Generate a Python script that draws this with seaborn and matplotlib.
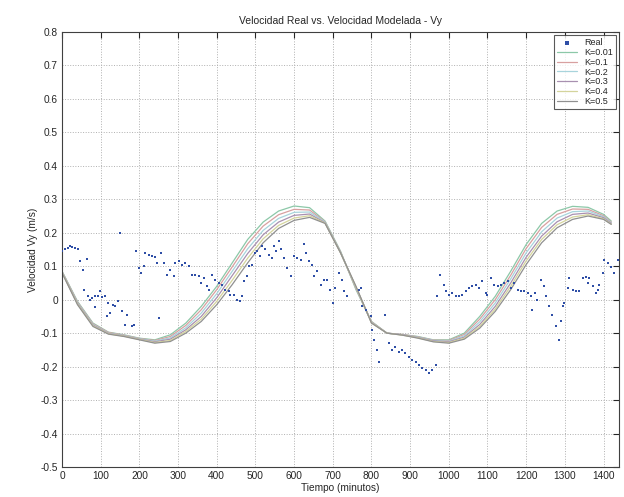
import numpy as np
import pandas as pd
import matplotlib
matplotlib.use("Agg")
import matplotlib.pyplot as plt
import seaborn as sns

# datos reales (tiempo en minutos, velocidad Vy en m/s)
t_real = [1, 8, 15, 21, 27, 34, 41, 47, 53, 64, 58, 68, 73, 77, 84, 84, 94, 99, 103, 110,
          116, 120, 124, 131, 137, 144, 150, 155, 168, 163, 181, 187, 192, 198, 205, 211,
          215, 224, 232, 241, 250, 257, 245, 263, 271, 280, 289, 293, 302, 310, 319, 327,
          336, 345, 353, 360, 366, 375, 379, 388, 395, 405, 414, 422, 431, 435, 444, 453,
          461, 466, 470, 479, 483, 492, 500, 504, 513, 517, 526, 535, 542, 548, 552, 561,
          565, 574, 582, 591, 600, 608, 617, 625, 630, 638, 647, 651, 660, 669, 677, 686,
          694, 700, 707, 716, 723, 729, 738,
          767, 772, 776, 785, 798, 802, 806, 815, 819, 836, 845, 854, 862, 871, 880, 888,
          897, 906, 914, 923, 931, 940, 949, 957, 966, 970,
          977, 988, 992, 1001, 1009, 1018, 1026, 1035, 1044, 1052, 1061, 1070, 1078, 1087,
          1096, 1100, 1108, 1117, 1126, 1134, 1143, 1152, 1160, 1169, 1178, 1186, 1195,
          1204, 1212, 1216, 1222, 1229, 1238, 1247, 1251, 1260, 1268, 1277, 1286, 1290,
          1294, 1299, 1307, 1312, 1320, 1329, 1337, 1346, 1355, 1359, 1363, 1372, 1381,
          1385, 1389, 1398, 1402, 1411, 1419, 1428, 1437]
v_real = [0.145, 0.15, 0.155, 0.16, 0.158, 0.155, 0.15, 0.115, 0.09, 0.122, 0.03, 0.01, 0.0,
          0.005, -0.023, 0.01, 0.01, 0.025, 0.008, 0.01, -0.05, -0.01, -0.04, -0.015, -0.02,
          -0.005, 0.2, -0.035, -0.045, -0.075, -0.08, -0.075, 0.145, 0.095, 0.08, 0.1,
          0.14, 0.135, 0.13, 0.128, -0.055, 0.14, 0.11, 0.11, 0.075, 0.09, 0.07, 0.11,
          0.115, 0.105, 0.11, 0.1, 0.075, 0.075, 0.07, 0.05, 0.065, 0.04, 0.03, 0.075,
          0.06, 0.05, 0.045, 0.03, 0.025, 0.015, 0.015, 0.0, -0.005, 0.01, 0.055, 0.07,
          0.1, 0.105, 0.14, 0.145, 0.13, 0.16, 0.15, 0.135, 0.125, 0.16, 0.145, 0.175,
          0.15, 0.125, 0.095, 0.07, 0.13, 0.125, 0.12, 0.165, 0.14, 0.115, 0.105, 0.07,
          0.085, 0.045, 0.06, 0.06, 0.03, -0.01, 0.035, 0.08, 0.06, 0.025, 0.01,
          0.03, 0.035, -0.02, -0.03, -0.05, -0.09, -0.12, -0.15, -0.185, -0.045, -0.13,
          -0.15, -0.14, -0.155, -0.15, -0.16, -0.17, -0.18, -0.185, -0.195, -0.205, -0.21,
          -0.22, -0.21, -0.195, 0.01,
          0.074, 0.044, 0.025, 0.015, 0.02, 0.01, 0.01, 0.015, 0.025, 0.035, 0.04, 0.045,
          0.035, 0.055, 0.02, 0.015, 0.064, 0.045, 0.04, 0.045, 0.05, 0.055, 0.035, 0.05,
          0.03, 0.025, 0.025, 0.02, 0.01, -0.03, 0.02, 0.0, 0.06, 0.04, 0.01, -0.02,
          -0.045, -0.08, -0.12, -0.065, -0.02, -0.01, 0.035, 0.064, 0.03, 0.025, 0.025,
          0.064, 0.069, 0.05, 0.064, 0.04, 0.02, 0.03, 0.045, 0.079, 0.119, 0.109, 0.099,
          0.079, 0.119]

# velocidad modelada para cada K
t_mod = [0, 40, 80, 120, 160, 200, 240, 280, 320, 360, 400, 440, 480, 520, 560, 600, 640,
         680, 720, 760, 800, 840, 880, 920, 960, 1000, 1040, 1080, 1120, 1160, 1200, 1240,
         1280, 1320, 1360, 1400, 1420]
k001 = [0.085, -0.005, -0.07, -0.097, -0.105, -0.115, -0.12, -0.105, -0.07, -0.02, 0.04,
        0.11, 0.18, 0.232, 0.265, 0.28, 0.275, 0.235, 0.145, 0.03, -0.065, -0.1, -0.104,
        -0.11, -0.12, -0.12, -0.1, -0.05, 0.01, 0.085, 0.165, 0.228, 0.265, 0.279, 0.276,
        0.255, 0.235]
k01 = [0.084, -0.007, -0.072, -0.098, -0.106, -0.116, -0.122, -0.11, -0.077, -0.03, 0.03,
       0.098, 0.167, 0.22, 0.254, 0.27, 0.268, 0.233, 0.143, 0.033, -0.066, -0.1, -0.104,
       -0.111, -0.121, -0.122, -0.104, -0.058, 0.0, 0.073, 0.153, 0.216, 0.255, 0.271, 0.27,
       0.251, 0.232]
k02 = [0.083, -0.009, -0.074, -0.1, -0.107, -0.117, -0.124, -0.114, -0.084, -0.04, 0.018,
       0.085, 0.152, 0.207, 0.243, 0.261, 0.262, 0.232, 0.142, 0.035, -0.067, -0.1, -0.105,
       -0.112, -0.122, -0.124, -0.108, -0.066, -0.01, 0.062, 0.14, 0.203, 0.244, 0.263,
       0.265, 0.248, 0.23]
k03 = [0.082, -0.011, -0.076, -0.101, -0.108, -0.118, -0.126, -0.118, -0.09, -0.05, 0.006,
       0.072, 0.138, 0.194, 0.232, 0.252, 0.256, 0.23, 0.141, 0.037, -0.068, -0.1, -0.105,
       -0.113, -0.123, -0.126, -0.112, -0.074, -0.02, 0.05, 0.127, 0.19, 0.233, 0.255,
       0.259, 0.245, 0.228]
k04 = [0.081, -0.013, -0.078, -0.102, -0.109, -0.119, -0.128, -0.122, -0.095, -0.058,
       -0.005, 0.058, 0.124, 0.182, 0.222, 0.244, 0.251, 0.229, 0.14, 0.038, -0.069, -0.1,
       -0.106, -0.114, -0.125, -0.128, -0.115, -0.08, -0.028, 0.04, 0.116, 0.18, 0.224,
       0.247, 0.254, 0.242, 0.226]
k05 = [0.08, -0.015, -0.08, -0.103, -0.11, -0.12, -0.13, -0.125, -0.1, -0.065, -0.015,
       0.045, 0.11, 0.17, 0.213, 0.237, 0.246, 0.228, 0.14, 0.04, -0.07, -0.1, -0.106,
       -0.115, -0.126, -0.13, -0.118, -0.085, -0.035, 0.03, 0.105, 0.17, 0.215, 0.24, 0.25,
       0.24, 0.225]

labels = ["K=0.01", "K=0.1", "K=0.2", "K=0.3", "K=0.4", "K=0.5"]
series = [k001, k01, k02, k03, k04, k05]
colores = ["#8cc8a8", "#d8a0a0", "#a8d4dc", "#a890b0", "#d4d49c", "#909090"]

sns.set_style("white")
plt.rcParams['font.family'] = ['Liberation Sans', 'DejaVu Sans']

fig = plt.figure(figsize=(6.24, 4.97), dpi=100)
ax = fig.add_axes([0.0994, 0.0604, 0.8926, 0.8752])

sns.scatterplot(x=t_real, y=v_real, ax=ax, s=3.5, color="#2e4ea6", linewidth=0,
                marker="s", label="Real", zorder=3)
for lab, vals, col in zip(labels, series, colores):
    sns.lineplot(x=t_mod, y=vals, ax=ax, color=col, linewidth=0.9, label=lab,
                 estimator=None, sort=False, zorder=2)

ax.set_xlim(0, 1440)
ax.set_ylim(-0.5, 0.8)
ax.set_xticks(np.arange(0, 1401, 100))
yt = np.round(np.arange(-0.5, 0.81, 0.1), 1)
ax.set_yticks(yt)
ax.set_yticklabels(["0" if v == 0 else f"{v:g}" for v in yt])
ax.grid(True, linestyle=":", color="#b0b0b0", linewidth=0.7)
ax.tick_params(direction="in", length=4, labelsize=7.3, top=True, right=True, pad=3)
for s in ax.spines.values():
    s.set_color("#404040")
    s.set_linewidth(0.8)

ax.set_title("Velocidad Real vs. Velocidad Modelada - Vy", fontsize=7.5, pad=6)
ax.set_xlabel("Tiempo (minutos)", fontsize=7.3, labelpad=1)
ax.set_ylabel("Velocidad Vy (m/s)", fontsize=7.3, labelpad=2)

leg = ax.legend(loc="upper right", fontsize=6.5, frameon=True, fancybox=False,
                handlelength=2.2, borderpad=0.35, labelspacing=0.1, markerscale=1.3,
                borderaxespad=0.3)
leg.get_frame().set_edgecolor("#303030")
leg.get_frame().set_linewidth(0.8)

fig.savefig("out.png", dpi=100)
